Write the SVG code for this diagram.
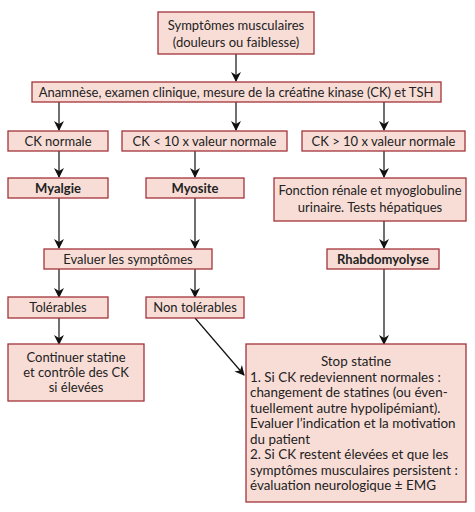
<svg xmlns="http://www.w3.org/2000/svg" width="475" height="512" viewBox="0 0 475 512">
<style>
.box{fill:#f8ddd6;stroke:#a3343a;stroke-width:1.3}
text{font-family:Lato,"Liberation Sans",sans-serif;font-size:13px;fill:#222}
.c{text-anchor:middle}
.b{font-weight:bold}
.s{font-size:13.4px}
.ln{stroke:#111;stroke-width:1.2;fill:none;marker-end:url(#ah)}
</style>
<defs>
<marker id="ah" viewBox="0 0 10 10" refX="9" refY="5" markerWidth="10" markerHeight="10" markerUnits="userSpaceOnUse" orient="auto">
<path d="M0,0 L10,5 L0,10 L3,5 z" fill="#111"/>
</marker>
</defs>
<rect width="475" height="512" fill="#fff"/>
<g id="connectors">
<line class="ln" x1="236" y1="54" x2="236" y2="81"/>
<line class="ln" x1="59" y1="102" x2="59" y2="130"/>
<line class="ln" x1="236" y1="102" x2="236" y2="130"/>
<line class="ln" x1="384" y1="102" x2="384" y2="130"/>
<line class="ln" x1="59" y1="151" x2="59" y2="177"/>
<line class="ln" x1="195" y1="151" x2="195" y2="177"/>
<line class="ln" x1="384" y1="151" x2="384" y2="177"/>
<line class="ln" x1="59" y1="198" x2="59" y2="248"/>
<line class="ln" x1="195" y1="198" x2="195" y2="248"/>
<line class="ln" x1="384" y1="221" x2="384" y2="248"/>
<line class="ln" x1="59" y1="269" x2="59" y2="297"/>
<line class="ln" x1="195" y1="269" x2="195" y2="297"/>
<line class="ln" x1="59" y1="318" x2="59" y2="344"/>
<line class="ln" x1="384" y1="269" x2="384" y2="344"/>
<line class="ln" x1="195" y1="318" x2="244" y2="375"/>
</g>
<g id="symptomes"><rect class="box" x="158" y="12" width="156" height="42"/>
<text class="c" x="236" y="30">Symptômes musculaires</text>
<text class="c" x="236" y="47">(douleurs ou faiblesse)</text></g>
<g id="anamnese"><rect class="box" x="32" y="82" width="409" height="20"/>
<text class="c" x="236" y="97">Anamnèse, examen clinique, mesure de la créatine kinase (CK) et TSH</text></g>
<g id="ck-normale"><rect class="box" x="8" y="131" width="100" height="20"/>
<text class="c" x="58" y="146">CK normale</text></g>
<g id="ck-inf"><rect class="box" x="122" y="131" width="165" height="20"/>
<text class="c" x="204.5" y="146">CK &lt; 10 x valeur normale</text></g>
<g id="ck-sup"><rect class="box" x="302" y="131" width="163" height="20"/>
<text class="c" x="383.5" y="146">CK &gt; 10 x valeur normale</text></g>
<g id="myalgie"><rect class="box" x="8" y="178" width="100" height="20"/>
<text class="c b" x="58" y="193">Myalgie</text></g>
<g id="myosite"><rect class="box" x="146" y="178" width="98" height="20"/>
<text class="c b" x="195" y="193">Myosite</text></g>
<g id="fonction"><rect class="box" x="274" y="178" width="192" height="43"/>
<text class="c" x="370" y="195">Fonction rénale et myoglobuline</text>
<text class="c" x="370" y="212">urinaire. Tests hépatiques</text></g>
<g id="evaluer"><rect class="box" x="44" y="249" width="168" height="20"/>
<text class="c" x="128" y="264">Evaluer les symptômes</text></g>
<g id="rhabdo"><rect class="box" x="327" y="249" width="112" height="20"/>
<text class="c b" x="383" y="264">Rhabdomyolyse</text></g>
<g id="tolerables"><rect class="box" x="8" y="297" width="100" height="21"/>
<text class="c" x="58" y="312">Tolérables</text></g>
<g id="non-tolerables"><rect class="box" x="146" y="297" width="98" height="21"/>
<text class="c" x="195" y="312">Non tolérables</text></g>
<g id="continuer"><rect class="box" x="8" y="344" width="136" height="57"/>
<text class="c" x="76" y="362">Continuer statine</text>
<text class="c" x="76" y="377">et contrôle des CK</text>
<text class="c" x="76" y="392">si élevées</text></g>
<g id="stop"><rect class="box" x="246" y="344" width="220" height="158"/>
<text class="c s" x="356" y="366">Stop statine</text>
<text class="s" x="250" y="382">1. Si CK redeviennent normales :</text>
<text class="s" x="250" y="397">changement de statines (ou éven-</text>
<text class="s" x="250" y="413">tuellement autre hypolipémiant).</text>
<text class="s" x="250" y="428">Evaluer l’indication et la motivation</text>
<text class="s" x="250" y="444">du patient</text>
<text class="s" x="250" y="459">2. Si CK restent élevées et que les</text>
<text class="s" x="250" y="475">symptômes musculaires persistent :</text>
<text class="s" x="250" y="490">évaluation neurologique ± EMG</text></g>
</svg>
